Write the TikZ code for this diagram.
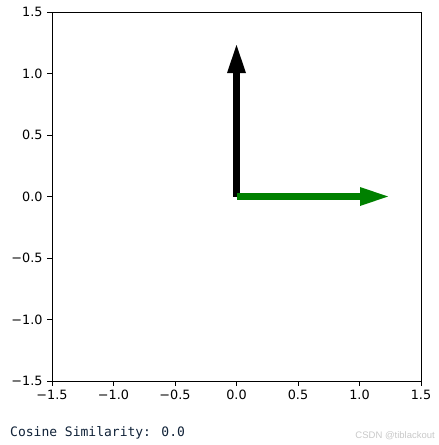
\documentclass[tikz,border=0pt]{standalone}
\usepackage{fontspec}
\setmainfont{DejaVu Sans}
\newfontfamily\outfont{DejaVu Sans Mono}
\newfontfamily\markfont{Liberation Sans}
\usetikzlibrary{arrows.meta}
\definecolor{mplgreen}{HTML}{008000}
\definecolor{outblue}{HTML}{102238}
\definecolor{markgray}{HTML}{C8C8C8}

\begin{document}
\begin{tikzpicture}[x=1pt, y=-1pt,
    frame/.style = {draw, line width=0.9pt},
    tick/.style = {draw, line width=0.9pt},
    ticklabel/.style = {font=\fontsize{12.8}{15}\selectfont, inner sep=0pt},
    vec/.style = {line width=7pt, -{Triangle[width=19pt, length=28pt, line width=0pt]}}]
    \useasboundingbox (0,0) rectangle (439,445);

    % axes box
    \draw[frame] (52,12) rectangle (421,381);

    % ticks and tick labels
    \foreach \v/\t [count=\i] in {-1.5/−1.5, -1.0/−1.0, -0.5/−0.5, 0.0/0.0, 0.5/0.5, 1.0/1.0, 1.5/1.5} {
        \draw[tick] ({236.5+123*\v},381) -- ++(0,5)
            node[ticklabel, anchor=north] (xl\i) [yshift=-4pt] {\t};
        \draw[tick] (52,{196.5-123*\v}) -- ++(-5,0)
            node[ticklabel, anchor=east] (yl\i) [xshift=-4pt] {\t};
    }

    % vectors
    \coordinate (O) at (236.5,196.5);
    \coordinate (U) at (236.5,45);
    \coordinate (V) at (388,196.5);
    \draw[vec, black] (O) -- (U);
    \draw[vec, mplgreen] (O) -- (V);

    % output text
    \node[anchor=base west, inner sep=0pt, text=outblue, font=\outfont\fontsize{13}{15}\selectfont] (sim) at (10,436.5) {Cosine Similarity: 0.0};
    \node[anchor=base east, inner sep=0pt, text=markgray, font=\markfont\fontsize{9.5}{11}\selectfont] (mark) at (435,438.5) {CSDN @tiblackout};
\end{tikzpicture}
\end{document}
